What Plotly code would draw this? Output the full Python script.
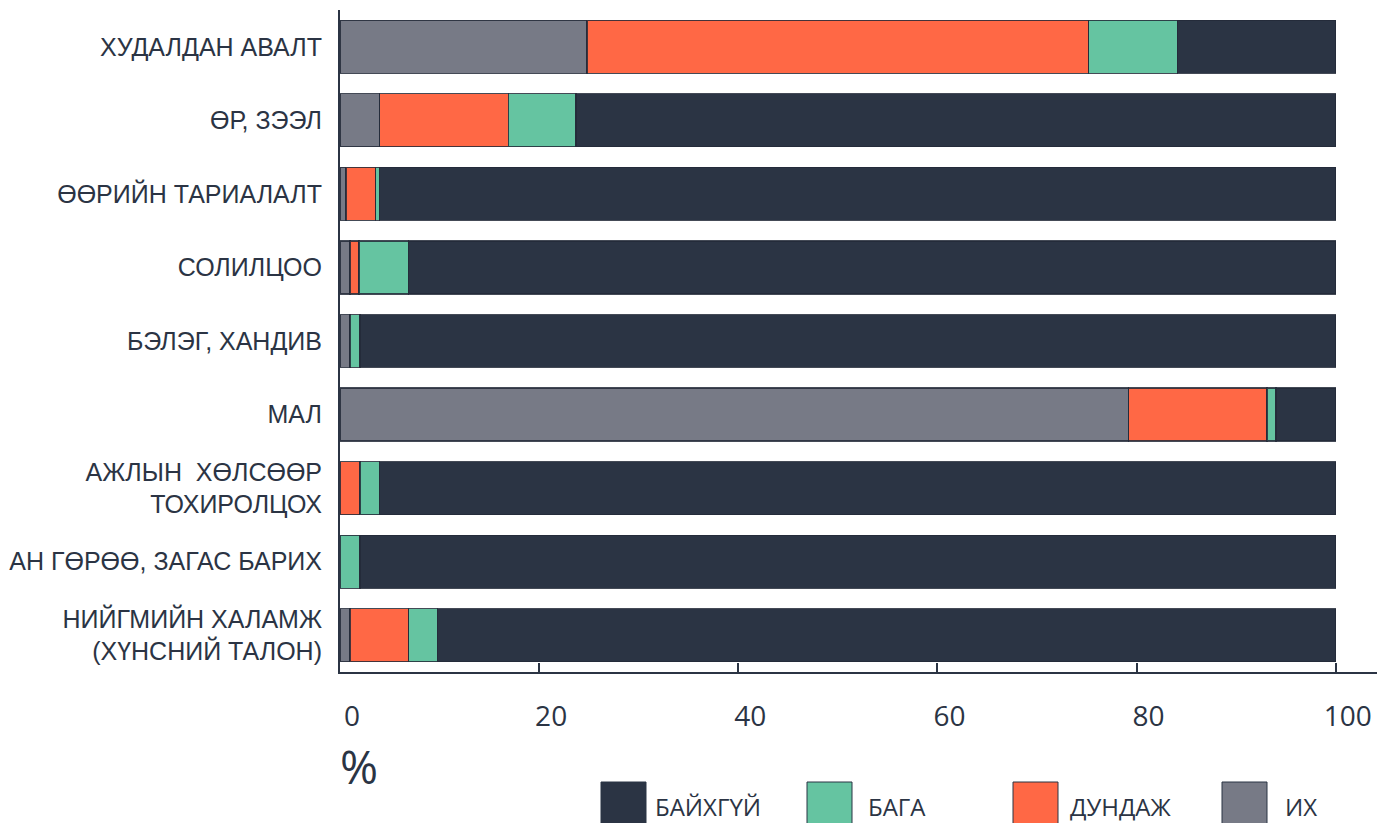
import plotly.graph_objects as go

categories = [
    "ХУДАЛДАН АВАЛТ",
    "ӨР, ЗЭЭЛ",
    "ӨӨРИЙН ТАРИАЛАЛТ",
    "СОЛИЛЦОО",
    "БЭЛЭГ, ХАНДИВ",
    "МАЛ",
    "АЖЛЫН  ХӨЛСӨӨР<br>ТОХИРОЛЦОХ",
    "АН ГӨРӨӨ, ЗАГАС БАРИХ",
    "НИЙГМИЙН ХАЛАМЖ<br>(ХҮНСНИЙ ТАЛОН)",
]
ih = [24.8, 4.0, 0.6, 1.0, 1.0, 79.2, 0.0, 0.0, 1.0]
dundaj = [50.4, 12.9, 3.0, 0.9, 0.0, 13.9, 2.0, 0.0, 5.9]
baga = [8.9, 6.8, 0.4, 5.0, 1.0, 0.9, 2.0, 2.0, 2.9]
baihgui = [15.9, 76.3, 96.0, 93.1, 98.0, 6.0, 96.0, 98.0, 90.2]
x_ticks = [0, 20, 40, 60, 80, 100]

series = [
    ("ИХ", ih, "#777a86"),
    ("ДУНДАЖ", dundaj, "#ff6845"),
    ("БАГА", baga, "#65c4a1"),
    ("БАЙХГҮЙ", baihgui, "#2b3444"),
]
legend_order = ["БАЙХГҮЙ", "БАГА", "ДУНДАЖ", "ИХ"]

DARK = "#2b3444"
FONT = "Open Sans"
LABEL_FONT = "Liberation Sans"

fig = go.Figure()
for name, vals, col in series:
    fig.add_trace(go.Bar(
        y=categories, x=vals, name=name, orientation="h",
        marker=dict(color=col, line=dict(color="rgba(35,42,56,0.85)", width=1.2)),
        showlegend=False,
    ))

W, H = 1377, 823
ml, mr, mt, mb = 340, 0, 10, 151
pw, ph = W - ml - mr, H - mt - mb


def px_x(p):
    return (p - ml) / pw


def px_y(p):
    return (H - mb - p) / ph


shapes = []
annotations = []
colors = {n: c for n, _, c in series}
box_left = [601, 807, 1013, 1222]
text_left = [653, 866, 1068, 1283]
for i, name in enumerate(legend_order):
    shapes.append(dict(
        type="rect", xref="paper", yref="paper",
        x0=px_x(box_left[i]), x1=px_x(box_left[i] + 45),
        y0=px_y(782), y1=px_y(840),
        fillcolor=colors[name], line=dict(color=DARK, width=1),
    ))
    annotations.append(dict(
        xref="paper", yref="paper", x=px_x(text_left[i]), y=px_y(806),
        text=name, showarrow=False, xanchor="left", yanchor="middle",
        font=dict(family=FONT, size=24, color=DARK),
    ))

annotations.append(dict(
    xref="paper", yref="paper", x=px_x(338), y=px_y(766),
    text="%", showarrow=False, xanchor="left", yanchor="middle",
    font=dict(family=FONT, size=46, color=DARK),
))

fig.update_layout(
    width=W, height=H,
    margin=dict(l=ml, r=mr, t=mt, b=mb, pad=0),
    barmode="stack", bargap=0.28,
    plot_bgcolor="white", paper_bgcolor="white",
    font=dict(family=FONT, color=DARK),
    shapes=shapes, annotations=annotations,
    showlegend=False,
)
fig.update_xaxes(
    range=[0, 104.15], tickvals=x_ticks, ticktext=[str(v) for v in x_ticks],
    ticks="inside", ticklen=9, tickwidth=2, tickcolor=DARK,
    showline=True, linewidth=2, linecolor=DARK,
    showgrid=False, zeroline=False,
    tickfont=dict(family=FONT, size=28, color=DARK),
    ticklabelshift=12, ticklabelstandoff=18,
)
fig.update_yaxes(
    autorange="reversed",
    showline=True, linewidth=2, linecolor=DARK,
    showgrid=False, zeroline=False, ticks="",
    tickfont=dict(family=LABEL_FONT, size=25, color=DARK),
    ticklabelstandoff=11,
)

fig.write_html(
    "out.html",
    config={"displayModeBar": False},
    post_script="document.body.style.margin='0';document.body.style.overflow='hidden';",
)
